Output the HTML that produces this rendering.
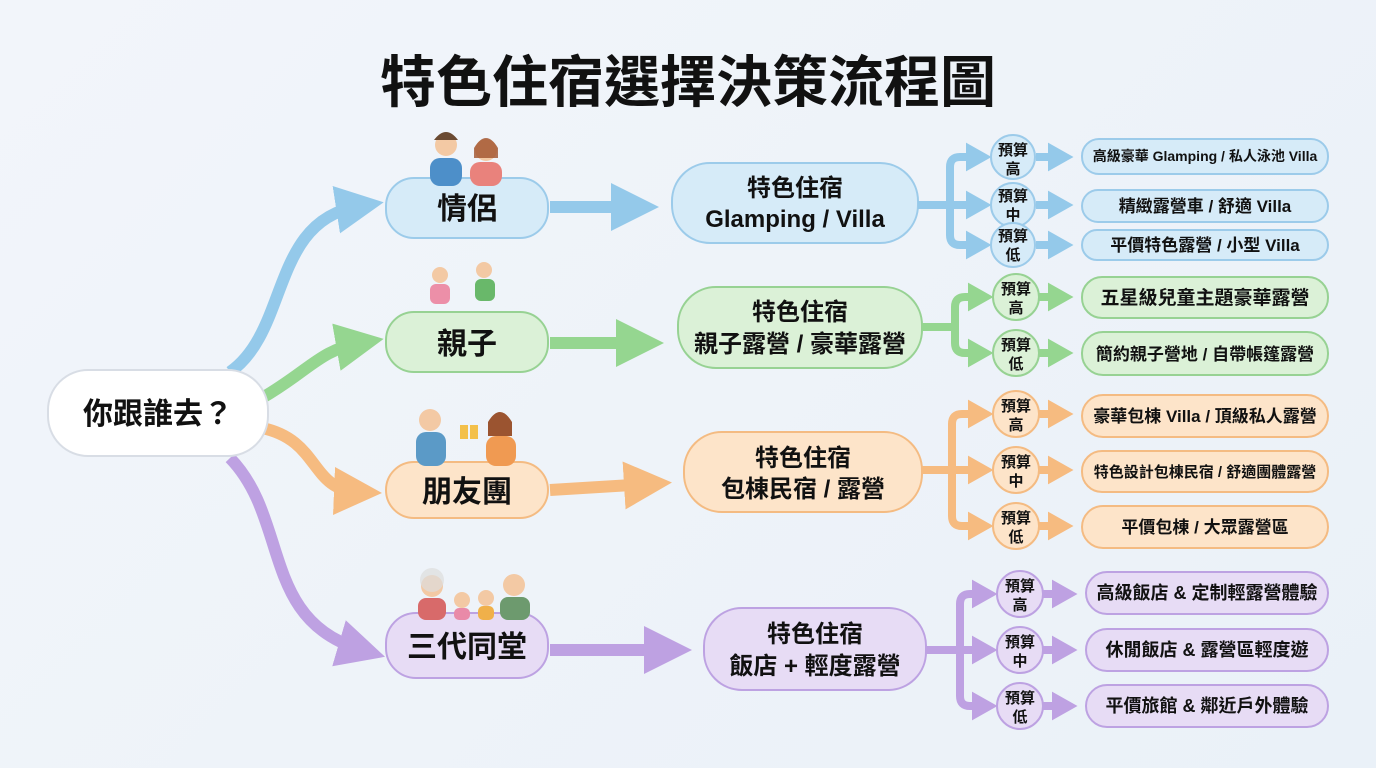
<!DOCTYPE html>
<html><head><meta charset="utf-8"><style>
html,body{margin:0;padding:0;width:1376px;height:768px;overflow:hidden;background:linear-gradient(135deg,#f2f5fa,#eaf1f8);}
svg text{font-family:"Liberation Sans","Noto Sans CJK TC",sans-serif;font-weight:bold;fill:#111;}
</style></head><body>
<svg width="1376" height="768" viewBox="0 0 1376 768" xmlns="http://www.w3.org/2000/svg">
<defs>
<marker id="ab" markerWidth="4" markerHeight="4" refX="2" refY="2" orient="auto" markerUnits="strokeWidth"><path d="M0,0 L4,2 L0,4 Z" fill="#94c9ea"/></marker>
<marker id="ag" markerWidth="4" markerHeight="4" refX="2" refY="2" orient="auto" markerUnits="strokeWidth"><path d="M0,0 L4,2 L0,4 Z" fill="#95d690"/></marker>
<marker id="ao" markerWidth="4" markerHeight="4" refX="2" refY="2" orient="auto" markerUnits="strokeWidth"><path d="M0,0 L4,2 L0,4 Z" fill="#f6bb80"/></marker>
<marker id="ap" markerWidth="4" markerHeight="4" refX="2" refY="2" orient="auto" markerUnits="strokeWidth"><path d="M0,0 L4,2 L0,4 Z" fill="#bea1e2"/></marker>
<marker id="sb" markerWidth="3.2" markerHeight="3.6" refX="1" refY="1.8" orient="auto" markerUnits="strokeWidth"><path d="M0,0 L3.2,1.8 L0,3.6 Z" fill="#94c9ea"/></marker>
<marker id="sg" markerWidth="3.2" markerHeight="3.6" refX="1" refY="1.8" orient="auto" markerUnits="strokeWidth"><path d="M0,0 L3.2,1.8 L0,3.6 Z" fill="#95d690"/></marker>
<marker id="so" markerWidth="3.2" markerHeight="3.6" refX="1" refY="1.8" orient="auto" markerUnits="strokeWidth"><path d="M0,0 L3.2,1.8 L0,3.6 Z" fill="#f6bb80"/></marker>
<marker id="sp" markerWidth="3.2" markerHeight="3.6" refX="1" refY="1.8" orient="auto" markerUnits="strokeWidth"><path d="M0,0 L3.2,1.8 L0,3.6 Z" fill="#bea1e2"/></marker>
</defs>
<text x="688" y="102" text-anchor="middle" font-size="56">特色住宿選擇決策流程圖</text>

<g fill="none" stroke-width="12">
<path d="M230,372 C290,330 270,220 360,206" stroke="#94c9ea" marker-end="url(#ab)"/>
<path d="M262,398 C310,370 320,350 360,343" stroke="#95d690" marker-end="url(#ag)"/>
<path d="M262,428 C320,440 310,490 358,492" stroke="#f6bb80" marker-end="url(#ao)"/>
<path d="M230,458 C290,520 260,620 362,650" stroke="#bea1e2" marker-end="url(#ap)"/>
<path d="M550,207 L635,207" stroke="#94c9ea" marker-end="url(#ab)"/>
<path d="M550,343 L640,343" stroke="#95d690" marker-end="url(#ag)"/>
<path d="M550,490 L648,484" stroke="#f6bb80" marker-end="url(#ao)"/>
<path d="M550,650 L668,650" stroke="#bea1e2" marker-end="url(#ap)"/>
</g>

<rect x="48" y="370" width="220" height="86" rx="40" fill="#fff" stroke="#d8dde5" stroke-width="2"/>
<text x="158" y="424" text-anchor="middle" font-size="30">你跟誰去？</text>

<rect x="386" y="178" width="162" height="60" rx="28" fill="#d6ebf8" stroke="#9ccbea" stroke-width="2"/>
<text x="467" y="219" text-anchor="middle" font-size="30">情侶</text>
<rect x="386" y="312" width="162" height="60" rx="28" fill="#dbf1d7" stroke="#97d293" stroke-width="2"/>
<text x="467" y="354" text-anchor="middle" font-size="30">親子</text>
<rect x="386" y="462" width="162" height="56" rx="28" fill="#fde4c9" stroke="#f4bb82" stroke-width="2"/>
<text x="467" y="502" text-anchor="middle" font-size="30">朋友團</text>
<rect x="386" y="613" width="162" height="65" rx="30" fill="#e7dcf5" stroke="#bda2e2" stroke-width="2"/>
<text x="467" y="657" text-anchor="middle" font-size="30">三代同堂</text>

<g>
<circle cx="446" cy="145" r="11" fill="#f3c9a4"/><path d="M434,140 q12,-16 24,0" fill="#6b4a32"/><rect x="430" y="158" width="32" height="28" rx="10" fill="#4d8fc9"/>
<circle cx="486" cy="150" r="11" fill="#f3c9a4"/><path d="M474,148 q12,-20 24,0 v10 h-24z" fill="#a0532d" opacity=".8"/><rect x="470" y="162" width="32" height="24" rx="10" fill="#e9827c"/>
<circle cx="440" cy="275" r="8" fill="#f3c9a4"/><rect x="430" y="284" width="20" height="20" rx="6" fill="#ec8fa8"/>
<circle cx="484" cy="270" r="8" fill="#f3c9a4"/><rect x="475" y="279" width="20" height="22" rx="6" fill="#69b86a"/>
<circle cx="430" cy="420" r="11" fill="#f3c9a4"/><rect x="416" y="432" width="30" height="34" rx="10" fill="#5b9ac7"/>
<circle cx="500" cy="424" r="11" fill="#f3c9a4"/><path d="M488,422 q12,-20 24,0 v14 h-24z" fill="#9b5430"/><rect x="486" y="436" width="30" height="30" rx="10" fill="#f09a52"/>
<rect x="460" y="425" width="8" height="14" fill="#f3c04a"/><rect x="470" y="425" width="8" height="14" fill="#f3c04a"/>
<circle cx="432" cy="586" r="11" fill="#f3c9a4"/><circle cx="432" cy="580" r="12" fill="#ddd" opacity=".7"/><rect x="418" y="598" width="28" height="22" rx="8" fill="#d86a6a"/>
<circle cx="462" cy="600" r="8" fill="#f3c9a4"/><rect x="454" y="608" width="16" height="12" rx="5" fill="#e98aa8"/>
<circle cx="486" cy="598" r="8" fill="#f3c9a4"/><rect x="478" y="606" width="16" height="14" rx="5" fill="#f0b04a"/>
<circle cx="514" cy="585" r="11" fill="#f3c9a4"/><rect x="500" y="597" width="30" height="23" rx="8" fill="#6d9a6e"/>
</g>

<rect x="672" y="163" width="246" height="80" rx="38" fill="#d6ebf8" stroke="#9ccbea" stroke-width="2"/>
<text x="795" y="196" text-anchor="middle" font-size="24">特色住宿</text>
<text x="795" y="227" text-anchor="middle" font-size="24">Glamping / Villa</text>
<rect x="678" y="287" width="244" height="81" rx="38" fill="#dbf1d7" stroke="#97d293" stroke-width="2"/>
<text x="800" y="320" text-anchor="middle" font-size="24">特色住宿</text>
<text x="800" y="352" text-anchor="middle" font-size="24">親子露營 / 豪華露營</text>
<rect x="684" y="432" width="238" height="80" rx="38" fill="#fde4c9" stroke="#f4bb82" stroke-width="2"/>
<text x="803" y="466" text-anchor="middle" font-size="24">特色住宿</text>
<text x="803" y="497" text-anchor="middle" font-size="24">包棟民宿 / 露營</text>
<rect x="704" y="608" width="222" height="82" rx="38" fill="#e7dcf5" stroke="#bda2e2" stroke-width="2"/>
<text x="815" y="642" text-anchor="middle" font-size="24">特色住宿</text>
<text x="815" y="674" text-anchor="middle" font-size="24">飯店 + 輕度露營</text>

<g fill="none" stroke-width="8" stroke-linejoin="round">
<g stroke="#94c9ea">
<path d="M918,205 H950"/>
<path d="M966,157 H960 Q950,157 950,167 V235 Q950,245 960,245 H974" marker-end="url(#sb)"/>
<path d="M950,205 H974" marker-end="url(#sb)"/><path d="M962,157 H974" marker-end="url(#sb)"/>
<path d="M1036,157 H1056" marker-end="url(#sb)"/><path d="M1036,205 H1056" marker-end="url(#sb)"/><path d="M1036,245 H1056" marker-end="url(#sb)"/>
</g>
<g stroke="#95d690">
<path d="M922,327 H955"/>
<path d="M968,297 H965 Q955,297 955,307 V343 Q955,353 965,353 H976" marker-end="url(#sg)"/>
<path d="M965,297 H976" marker-end="url(#sg)"/>
<path d="M1038,297 H1056" marker-end="url(#sg)"/><path d="M1038,353 H1056" marker-end="url(#sg)"/>
</g>
<g stroke="#f6bb80">
<path d="M922,470 H952"/>
<path d="M966,414 H962 Q952,414 952,424 V516 Q952,526 962,526 H976" marker-end="url(#so)"/>
<path d="M952,470 H976" marker-end="url(#so)"/><path d="M962,414 H976" marker-end="url(#so)"/>
<path d="M1038,414 H1056" marker-end="url(#so)"/><path d="M1038,470 H1056" marker-end="url(#so)"/><path d="M1038,526 H1056" marker-end="url(#so)"/>
</g>
<g stroke="#bea1e2">
<path d="M926,650 H960"/>
<path d="M974,594 H970 Q960,594 960,604 V696 Q960,706 970,706 H980" marker-end="url(#sp)"/>
<path d="M960,650 H980" marker-end="url(#sp)"/><path d="M970,594 H980" marker-end="url(#sp)"/>
<path d="M1042,594 H1060" marker-end="url(#sp)"/><path d="M1042,650 H1060" marker-end="url(#sp)"/><path d="M1042,706 H1060" marker-end="url(#sp)"/>
</g>
</g>

<g font-size="15" text-anchor="middle">
<g fill="#d6ebf8" stroke="#9ccbea" stroke-width="2">
<circle cx="1013" cy="157" r="22"/><circle cx="1013" cy="205" r="22"/><circle cx="1013" cy="245" r="22"/></g>
<text x="1013" y="155">預算</text><text x="1013" y="174">高</text>
<text x="1013" y="201">預算</text><text x="1013" y="220">中</text>
<text x="1013" y="241">預算</text><text x="1013" y="260">低</text>
<g fill="#dbf1d7" stroke="#97d293" stroke-width="2">
<circle cx="1016" cy="297" r="23"/><circle cx="1016" cy="353" r="23"/></g>
<text x="1016" y="294">預算</text><text x="1016" y="313">高</text>
<text x="1016" y="350">預算</text><text x="1016" y="369">低</text>
<g fill="#fde4c9" stroke="#f4bb82" stroke-width="2">
<circle cx="1016" cy="414" r="23"/><circle cx="1016" cy="470" r="23"/><circle cx="1016" cy="526" r="23"/></g>
<text x="1016" y="411">預算</text><text x="1016" y="430">高</text>
<text x="1016" y="467">預算</text><text x="1016" y="486">中</text>
<text x="1016" y="523">預算</text><text x="1016" y="542">低</text>
<g fill="#e7dcf5" stroke="#bda2e2" stroke-width="2">
<circle cx="1020" cy="594" r="23"/><circle cx="1020" cy="650" r="23"/><circle cx="1020" cy="706" r="23"/></g>
<text x="1020" y="591">預算</text><text x="1020" y="610">高</text>
<text x="1020" y="647">預算</text><text x="1020" y="666">中</text>
<text x="1020" y="703">預算</text><text x="1020" y="722">低</text>
</g>

<g stroke-width="2">
<g fill="#d6ebf8" stroke="#9ccbea">
<rect x="1082" y="139" width="246" height="35" rx="17"/><rect x="1082" y="190" width="246" height="32" rx="16"/><rect x="1082" y="230" width="246" height="30" rx="15"/></g>
<g fill="#dbf1d7" stroke="#97d293">
<rect x="1082" y="277" width="246" height="41" rx="20"/><rect x="1082" y="332" width="246" height="43" rx="21"/></g>
<g fill="#fde4c9" stroke="#f4bb82">
<rect x="1082" y="395" width="246" height="42" rx="21"/><rect x="1082" y="451" width="246" height="41" rx="20"/><rect x="1082" y="506" width="246" height="42" rx="21"/></g>
<g fill="#e7dcf5" stroke="#bda2e2">
<rect x="1086" y="572" width="242" height="42" rx="21"/><rect x="1086" y="629" width="242" height="42" rx="21"/><rect x="1086" y="685" width="242" height="42" rx="21"/></g>
</g>
<g text-anchor="middle">
<text x="1205" y="161" font-size="14">高級豪華 Glamping / 私人泳池 Villa</text>
<text x="1205" y="212" font-size="17">精緻露營車 / 舒適 Villa</text>
<text x="1205" y="251" font-size="17">平價特色露營 / 小型 Villa</text>
<text x="1205" y="304" font-size="19">五星級兒童主題豪華露營</text>
<text x="1205" y="360" font-size="17">簡約親子營地 / 自帶帳篷露營</text>
<text x="1205" y="422" font-size="17">豪華包棟 Villa / 頂級私人露營</text>
<text x="1205" y="477" font-size="15">特色設計包棟民宿 / 舒適團體露營</text>
<text x="1205" y="533" font-size="17">平價包棟 / 大眾露營區</text>
<text x="1207" y="599" font-size="18">高級飯店 &amp; 定制輕露營體驗</text>
<text x="1207" y="656" font-size="18">休閒飯店 &amp; 露營區輕度遊</text>
<text x="1207" y="712" font-size="18">平價旅館 &amp; 鄰近戶外體驗</text>
</g>
</svg>
</body></html>
